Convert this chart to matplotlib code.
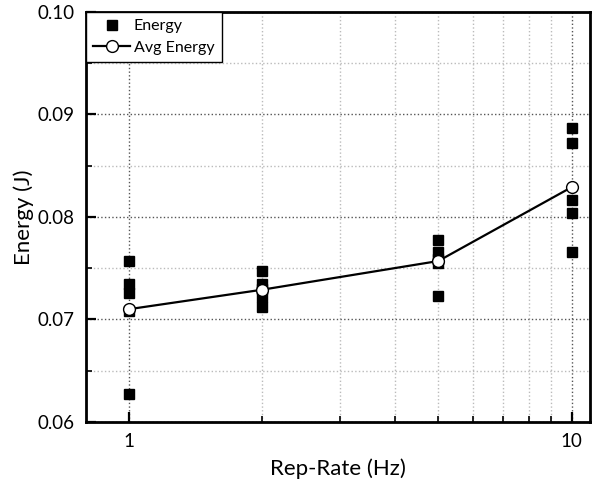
import matplotlib.pyplot as plt
from matplotlib.ticker import FixedLocator, NullFormatter, MultipleLocator

plt.rcParams['font.family'] = ['Lato', 'DejaVu Sans']

# individual shots (Energy) at each rep-rate
rate_1 = [0.0757, 0.0735, 0.0726, 0.0708, 0.0627]
rate_2 = [0.0747, 0.0735, 0.0730, 0.0722, 0.0712]
rate_5 = [0.0778, 0.0766, 0.0759, 0.0755, 0.0723]
rate_10 = [0.0887, 0.0872, 0.0817, 0.0804, 0.0766]
rates = [1, 2, 5, 10]
avg_energy = [0.0710, 0.0729, 0.0757, 0.0829]

fig = plt.figure(figsize=(5.97, 4.8), dpi=100)
ax = fig.add_axes([0.144, 0.121, 0.844, 0.854])

ax.set_xscale('log')
ax.set_xlim(0.8, 11)
ax.set_ylim(0.06, 0.10)

xs, ys = [], []
for r, vals in zip(rates, [rate_1, rate_2, rate_5, rate_10]):
    xs += [r] * len(vals)
    ys += vals
ax.plot(xs, ys, 's', color='black', markersize=7, label='Energy', zorder=3)
ax.plot(rates, avg_energy, '-o', color='black', lw=1.6, markersize=8.5,
        markerfacecolor='white', markeredgecolor='black', markeredgewidth=1.0,
        label='Avg Energy', zorder=4)

ax.xaxis.set_major_locator(FixedLocator([1, 10]))
ax.set_xticklabels(['1', '10'])
ax.xaxis.set_minor_locator(FixedLocator([2, 3, 4, 5, 6, 7, 8, 9]))
ax.xaxis.set_minor_formatter(NullFormatter())
ax.set_yticks([0.06, 0.07, 0.08, 0.09, 0.10])
ax.set_yticklabels(['%.2f' % v for v in [0.06, 0.07, 0.08, 0.09, 0.10]])
ax.yaxis.set_minor_locator(MultipleLocator(0.005))

ax.grid(which='major', linestyle=':', color='#555555', lw=1.0)
ax.grid(which='minor', linestyle=':', color='#bbbbbb', lw=1.0)
ax.set_axisbelow(True)

ax.tick_params(which='major', direction='in', length=7, width=1.6, labelsize=13.5,
               top=False, right=False, colors='black', pad=8)
ax.tick_params(which='minor', direction='in', length=4, width=1.2,
               top=False, right=False)
for s in ax.spines.values():
    s.set_linewidth(2)

ax.set_xlabel('Rep-Rate (Hz)', fontsize=16, labelpad=6)
ax.set_ylabel('Energy (J)', fontsize=16, labelpad=3)

leg = ax.legend(loc='upper left', fontsize=11.5, fancybox=False, framealpha=1,
                edgecolor='black', borderaxespad=0, handlelength=2.3,
                borderpad=0.45, labelspacing=0.45, handletextpad=0.25)
leg.get_frame().set_linewidth(1.0)

fig.savefig('out.png', dpi=100)
